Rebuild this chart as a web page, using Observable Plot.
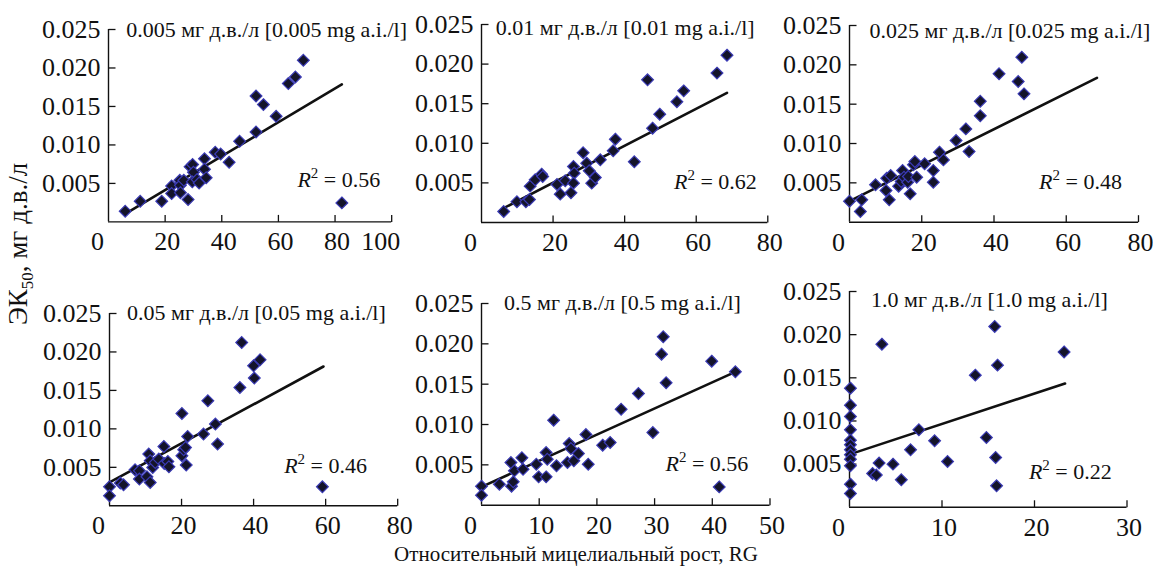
<!DOCTYPE html>
<html>
<head>
<meta charset="utf-8">
<script src="https://cdn.jsdelivr.net/npm/d3@7"></script>
<script src="https://cdn.jsdelivr.net/npm/@observablehq/plot@0.6"></script>
<style>
  html, body { margin: 0; padding: 0; background: #fff; }
  #root { position: relative; width: 1153px; height: 570px; overflow: hidden; background: #fff; font-family: "Liberation Serif", "DejaVu Serif", serif; color: #111; }
  #root svg { position: absolute; overflow: visible; }
  .lab { position: absolute; white-space: nowrap; font-family: "Liberation Serif", serif; color: #111; }
</style>
</head>
<body>
<div id="root">
  <div class="lab" id="ylab" style="left:18px; top:244px; font-size:27px; transform: translate(-50%,-50%) rotate(-90deg);">ЭК<span style="font-size:17px; position:relative; top:6px;">50</span>, мг д.в./л</div>
  <div class="lab" id="xlab" style="left:576px; top:554px; font-size:21px; transform: translate(-50%,-50%);">Относительный мицелиальный рост, RG</div>
</div>
<script>
// ---------- data ----------
const panelTitles = [
  "0.005 мг д.в./л [0.005 mg a.i./l]",
  "0.01 мг д.в./л [0.01 mg a.i./l]",
  "0.025 мг д.в./л [0.025 mg a.i./l]",
  "0.05 мг д.в./л [0.05 mg a.i./l]",
  "0.5 мг д.в./л [0.5 mg a.i./l]",
  "1.0 мг д.в./л [1.0 mg a.i./l]"
];
const r2Values = ["0.56", "0.62", "0.48", "0.46", "0.56", "0.22"];
const xMax = [100, 80, 80, 80, 50, 30];
const xTickStep = [20, 20, 20, 20, 10, 10];
const yTicks = [0.005, 0.010, 0.015, 0.020, 0.025];

const rg005 = [5.9,11.2,18.8,22.3,22.3,25.2,25.4,25.4,26.6,28.1,28.8,29.7,30,29.6,31.3,32,33.9,33.9,34.5,37.7,39.6,42.6,46.3,52.1,52.1,54.7,59.2,63.5,66,68.8,82.4];
const ec005 = [0.00139,0.00268,0.00268,0.00467,0.00368,0.0054,0.00475,0.0038,0.0054,0.0029,0.00718,0.00746,0.00645,0.0052,0.0055,0.00505,0.0082,0.00684,0.00573,0.00905,0.00882,0.00775,0.01047,0.01168,0.01636,0.01524,0.01372,0.01797,0.01883,0.021,0.00247];

const rg01 = [6.2,9.9,12.4,13.4,13.6,15,16.8,17.1,21.1,22,23.4,25,25.7,25.9,25.7,28.4,29.4,30.1,30.8,31.8,33.2,36.8,37.4,42.7,46.4,47.8,49.8,54.6,56.5,65.8,68.6];
const ec01 = [0.00139,0.00261,0.00261,0.0029,0.00459,0.00539,0.0061,0.00581,0.0048,0.00358,0.00526,0.00375,0.00707,0.00623,0.00497,0.0088,0.00749,0.00652,0.00497,0.00568,0.00791,0.00905,0.01052,0.00766,0.01801,0.01191,0.01368,0.01524,0.01662,0.01886,0.02113];

const rg025 = [0,3,3.4,7.2,10.1,10.3,11,11.4,13.6,14.3,14.7,15.1,16.1,16.3,16.8,17.7,18.1,18.6,20.8,23.2,23.2,24.9,26,29.5,32.2,33.1,36.2,36.2,41.4,46.7,47.7,48.3];
const ec025 = [0.00267,0.00136,0.00284,0.00475,0.00403,0.00559,0.00284,0.00593,0.00458,0.00517,0.00657,0.00572,0.00508,0.00581,0.0036,0.00729,0.00771,0.00572,0.00742,0.00657,0.00508,0.0089,0.00792,0.01038,0.01186,0.00898,0.01538,0.01352,0.01886,0.01788,0.02097,0.01631];

const rg05 = [0,0,3,3.9,7.1,8.3,8.3,10.4,10.9,11.3,11.3,12,12.7,13.7,15.1,15.2,16.2,16.5,20.1,20.1,20.6,21.1,21.3,21.7,26.1,27.3,29.4,30,36.2,36.7,40.2,40,41.8,59.1];
const ec05 = [0.00247,0.0013,0.00295,0.00273,0.00468,0.00455,0.00347,0.00377,0.00672,0.00303,0.00585,0.00498,0.00563,0.00607,0.00771,0.0055,0.00576,0.00507,0.012,0.0065,0.00728,0.00758,0.00529,0.00901,0.00932,0.01365,0.01062,0.00802,0.01538,0.02123,0.0166,0.0182,0.01898,0.00247];

const rg5 = [0,0,3.1,5.1,5.2,5.5,5.7,7,7.2,9.5,9.9,11.2,11.2,11.4,12.5,13,14.9,15.2,15.5,16,16.8,18.1,18.5,21,22.3,24.2,27.2,29.7,31.2,31.5,32,39.9,41.2,44];
const ec5 = [0.00236,0.00124,0.0026,0.00529,0.00236,0.00289,0.00426,0.00587,0.00446,0.00508,0.00351,0.00351,0.00653,0.0057,0.01054,0.00488,0.00529,0.00764,0.00702,0.0055,0.0064,0.00876,0.00508,0.00744,0.00777,0.0119,0.01384,0.009,0.01872,0.02087,0.01517,0.01785,0.00227,0.01653];

const rg10 = [0.1,0.1,0.1,0.1,0.1,0.1,0.1,0.1,0.1,0.1,0.1,0.1,2.5,2.9,3.2,3.5,4.7,5.6,6.6,7.5,9.2,10.6,13.6,14.8,15.7,15.8,15.9,16,23.2];
const ec10 = [0.0138,0.01183,0.01052,0.00898,0.00778,0.00724,0.00666,0.00608,0.00558,0.00481,0.00268,0.0016,0.00392,0.00373,0.00512,0.0189,0.005,0.00319,0.00666,0.00898,0.0077,0.00531,0.01531,0.00809,0.02095,0.00577,0.00249,0.01647,0.018];

// regression lines (end points)
const fitRG = [[6.5, 82.4], [6.2, 68.6], [0, 68.5], [0, 59.4], [0, 44], [0.1, 23.3]];
const fitEC = [[0.00117, 0.01788], [0.00181, 0.01637], [0.00267, 0.01835], [0.00303, 0.01811], [0.00227, 0.01653], [0.00616, 0.01434]];

const seriesRG = [rg005, rg01, rg025, rg05, rg5, rg10];
const seriesEC = [ec005, ec01, ec025, ec05, ec5, ec10];

// ---------- layout (pixels) ----------
const boxes = [
  {x0: 108.3, x1: 391.5, yt: 29.3, yb: 221.7, tx: 126, ty: 30, rx: 380, ry: 180},
  {x0: 480.7, x1: 767, yt: 23.7, yb: 221.7, tx: 495, ty: 27.5, rx: 756, ry: 181},
  {x0: 849.3, x1: 1138.3, yt: 25, yb: 221.7, tx: 869.3, ty: 30.5, rx: 1121.7, ry: 181},
  {x0: 108.5, x1: 396.7, yt: 312.7, yb: 505, tx: 126, ty: 312, rx: 366, ry: 465},
  {x0: 480.5, x1: 769, yt: 303.3, yb: 505, tx: 503, ty: 303, rx: 747.3, ry: 464},
  {x0: 848.5, x1: 1126, yt: 290.7, yb: 506.5, tx: 870, ty: 299, rx: 1110.7, ry: 471.5}
];
const M = {l: 110, r: 40, t: 40, b: 50};
const FONT = "Liberation Serif";
const TICKFONT = 26;
const tickUp = {draw(c) { c.moveTo(0, 0); c.lineTo(0, -7); }};
const tickRight = {draw(c) { c.moveTo(0, 0); c.lineTo(7, 0); }};
const root = document.getElementById("root");

boxes.forEach((b, i) => {
  const pts = seriesRG[i].map((x, k) => ({x, y: seriesEC[i][k]}));
  const fit = fitRG[i].map((x, k) => ({x, y: fitEC[i][k]}));
  const xt = d3.range(0, xMax[i] + 1e-9, xTickStep[i]);
  const xtInner = xt.filter(d => d !== 0 && d !== 100);
  const xtShift = xt.filter(d => d === 0 || d === 100);
  const W = (b.x1 - b.x0) + M.l + M.r;
  const H = (b.yb - b.yt) + M.t + M.b;
  const svg = Plot.plot({
    width: W, height: H,
    marginLeft: M.l, marginRight: M.r, marginTop: M.t, marginBottom: M.b,
    style: {fontFamily: FONT, fontSize: TICKFONT + "px", background: "transparent", color: "#111", overflow: "visible"},
    x: {domain: [0, xMax[i]]},
    y: {domain: [0, 0.025]},
    marks: [
      Plot.ruleX([0], {stroke: "#111", strokeWidth: 1.4}),
      Plot.ruleY([0], {stroke: "#111", strokeWidth: 1.4}),
      Plot.dot(yTicks, {x: 0, y: d => d, symbol: tickRight, fill: "none", stroke: "#111", strokeWidth: 1.3}),
      Plot.dot(xt.filter(d => d !== 0), {x: d => d, y: 0, symbol: tickUp, fill: "none", stroke: "#111", strokeWidth: 1.3}),
      Plot.axisY(yTicks, {tickSize: 0, tickPadding: 8, tickFormat: d3.format(".3f"), label: null, fontSize: TICKFONT, fill: "#111"}),
      Plot.axisX(xtInner, {tickSize: 0, tickPadding: 10, dx: 2, label: null, fontSize: TICKFONT, fill: "#111"}),
      Plot.axisX(xtShift, {tickSize: 0, tickPadding: 10, dx: -11, label: null, fontSize: TICKFONT, fill: "#111"}),
      Plot.line(fit, {x: "x", y: "y", stroke: "#111", strokeWidth: 2.6}),
      Plot.dot(pts, {x: "x", y: "y", symbol: "diamond2", r: 5.3, fill: "#14142a", stroke: "#3a3ab4", strokeWidth: 1.2}),
      Plot.text([panelTitles[i]], {frameAnchor: "top-left", dx: b.tx - b.x0, dy: b.ty - b.yt, textAnchor: "start", lineAnchor: "middle", fontSize: 22, fill: "#111"}),
      Plot.text(["R2 = " + r2Values[i]], {frameAnchor: "top-left", dx: b.rx - b.x0, dy: b.ry - b.yt, textAnchor: "end", lineAnchor: "middle", fontSize: 22, fill: "#111"})
    ]
  });
  svg.style.left = (b.x0 - M.l) + "px";
  svg.style.top = (b.yt - M.t) + "px";
  svg.querySelectorAll("text").forEach(t => {
    const s = t.textContent;
    if (/^R2 = /.test(s)) {
      const rest = s.slice(2);
      while (t.firstChild) t.removeChild(t.firstChild);
      const ns = "http://www.w3.org/2000/svg";
      const a = document.createElementNS(ns, "tspan");
      a.setAttribute("font-style", "italic"); a.textContent = "R";
      const sup = document.createElementNS(ns, "tspan");
      sup.setAttribute("font-size", "15"); sup.setAttribute("dy", "-9"); sup.textContent = "2";
      const c = document.createElementNS(ns, "tspan");
      c.setAttribute("dy", "9"); c.textContent = rest;
      t.appendChild(a); t.appendChild(sup); t.appendChild(c);
    }
  });
  root.appendChild(svg);
});
</script>
</body>
</html>
